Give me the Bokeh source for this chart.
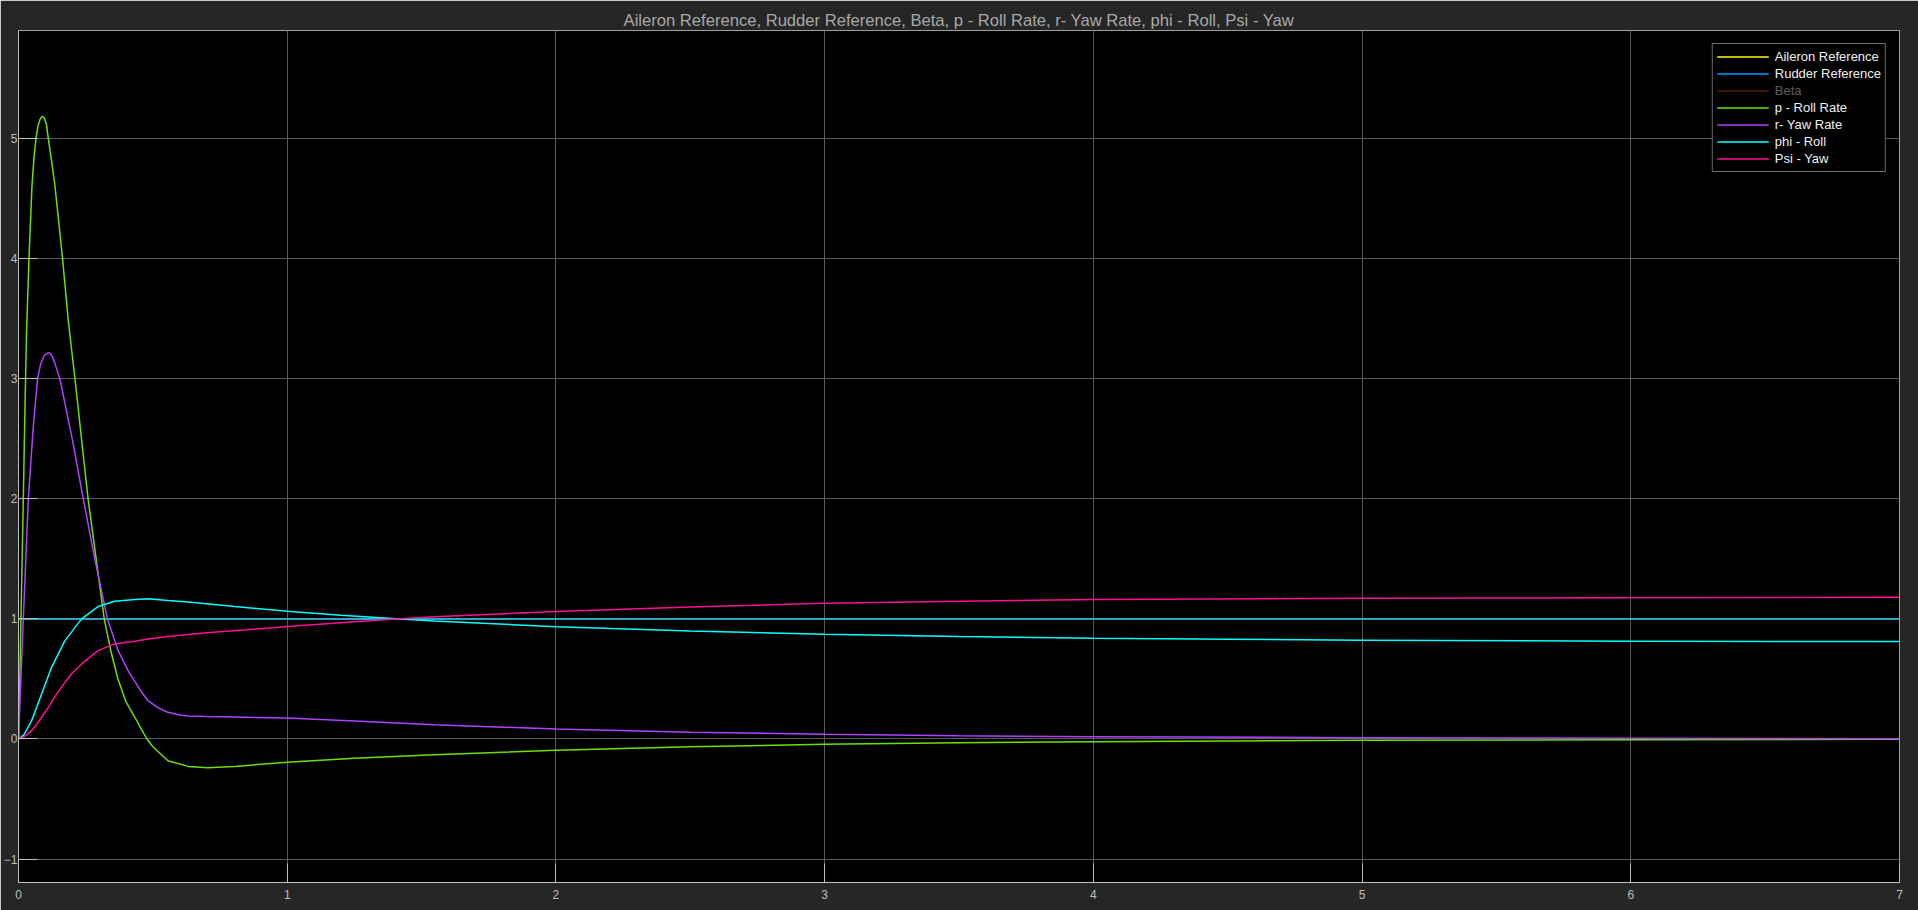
from bokeh.plotting import figure
from bokeh.models import FixedTicker, Legend, LegendItem, Range1d
from bokeh.embed import file_html
from bokeh.resources import INLINE

title_text = "Aileron Reference, Rudder Reference, Beta, p - Roll Rate, r- Yaw Rate, phi - Roll, Psi - Yaw"
x_ticks = [0, 1, 2, 3, 4, 5, 6, 7]
y_ticks = [-1, 0, 1, 2, 3, 4, 5]

ref_t = [0, 7]
aileron_ref = [1, 1]
rudder_ref = [1, 1]

# Beta is hidden in the scope (greyed legend entry): no visible values
beta_t = [0]
beta_y = [float("nan")]

p_t = [0, 0.005, 0.009, 0.018, 0.024, 0.030, 0.039, 0.050, 0.058, 0.065, 0.072, 0.080, 0.0885, 0.096,
       0.104, 0.111, 0.122, 0.135, 0.164, 0.185, 0.210, 0.259, 0.319, 0.345, 0.370, 0.400, 0.433,
       0.455, 0.478, 0.50, 0.556, 0.631, 0.705, 0.804, 1.0, 1.25, 1.547, 2.0, 2.5, 3.0, 3.5, 4.0,
       5.0, 6.0, 7.0]
p_y = [0, 0.5, 1.0, 2.0, 2.75, 3.39, 4.0, 4.6, 4.85, 5.0, 5.1, 5.16, 5.186, 5.17,
       5.12, 5.0, 4.83, 4.62, 4.0, 3.49, 3.0, 2.0, 1.0, 0.72, 0.5, 0.31, 0.181,
       0.09, 0.0, -0.065, -0.181, -0.228, -0.239, -0.228, -0.194, -0.16, -0.131, -0.094, -0.065,
       -0.044, -0.031, -0.022, -0.011, -0.006, -0.003]

r_t = [0, 0.009, 0.018, 0.0365, 0.055, 0.071, 0.082, 0.095, 0.105, 0.1145, 0.125, 0.135, 0.154,
       0.20, 0.241, 0.284, 0.331, 0.37, 0.41, 0.433, 0.455, 0.482, 0.52, 0.556, 0.60, 0.631, 0.70,
       0.804, 1.0, 1.25, 1.547, 2.0, 2.5, 3.0, 3.5, 4.0, 5.0, 6.0, 7.0]
r_y = [0, 0.5, 1.0, 2.0, 2.6, 3.0, 3.12, 3.19, 3.21, 3.217, 3.19, 3.13, 3.0,
       2.5, 2.0, 1.5, 1.0, 0.74, 0.56, 0.48, 0.40, 0.319, 0.26, 0.222, 0.20, 0.192, 0.187,
       0.183, 0.175, 0.15, 0.119, 0.083, 0.057, 0.039, 0.027, 0.019, 0.011, 0.006, 0.003]

phi_t = [0, 0.02, 0.049, 0.086, 0.123, 0.173, 0.235, 0.296, 0.358, 0.433, 0.482, 0.556, 0.631,
         0.804, 1.0, 1.2, 1.359, 1.547, 2.0, 2.5, 3.0, 3.5, 4.0, 4.5, 5.0, 6.0, 7.0]
phi_y = [0, 0.035, 0.153, 0.375, 0.597, 0.819, 1.0, 1.103, 1.147, 1.161, 1.167, 1.153, 1.14,
         1.103, 1.064, 1.03, 1.008, 0.983, 0.934, 0.90, 0.873, 0.853, 0.839, 0.83, 0.823, 0.814, 0.812]

psi_t = [0, 0.02, 0.049, 0.08, 0.111, 0.14, 0.173, 0.2, 0.235, 0.296, 0.358, 0.433, 0.482, 0.556,
         0.7, 0.85, 1.0, 1.359, 1.547, 2.0, 2.5, 3.0, 3.5, 4.0, 5.0, 6.0, 7.0]
psi_y = [0, 0.018, 0.069, 0.16, 0.264, 0.37, 0.472, 0.55, 0.625, 0.736, 0.792, 0.814, 0.833, 0.853,
         0.885, 0.91, 0.937, 0.994, 1.019, 1.061, 1.10, 1.13, 1.148, 1.161, 1.172, 1.177, 1.18]

FONT = "Liberation Sans"

p = figure(width=1918, height=910, x_range=Range1d(0, 7), y_range=Range1d(-1.195, 5.90),
           output_backend="svg", toolbar_location=None,
           background_fill_color="black", border_fill_color="#262626",
           min_border_left=0, min_border_right=19, min_border_top=30, min_border_bottom=28)

p.title.text = title_text
p.title.align = "center"
p.title.text_color = "#a8a8a8"
p.title.text_font = FONT
p.title.text_font_size = "16.6px"
p.title.text_font_style = "normal"
p.title.offset = 0
p.title.standoff = 2

p.outline_line_color = "#a0a0a0"

p.xaxis.ticker = FixedTicker(ticks=x_ticks)
p.yaxis.ticker = FixedTicker(ticks=y_ticks)
for ax in p.axis:
    ax.major_tick_in = 19
    ax.major_tick_out = 0
    ax.minor_tick_in = 0
    ax.minor_tick_out = 0
    ax.axis_line_color = "#bfbfbf"
    ax.major_tick_line_color = "#bfbfbf"
    ax.major_label_text_color = "#bdbdbd"
    ax.major_label_text_font = FONT
    ax.major_label_text_font_size = "12px"
p.yaxis.major_label_standoff = 1
p.xaxis.major_label_standoff = 7

p.xgrid.grid_line_color = "#5a5a5a"
p.ygrid.grid_line_color = "#5a5a5a"

lw = 1.5
r_ail = p.line(ref_t, aileron_ref, line_color="#ffff00", line_width=lw)
r_rud = p.line(ref_t, rudder_ref, line_color="#0096ff", line_width=lw)
r_beta = p.line(beta_t, beta_y, line_color="#d95319", line_width=lw)
r_beta.visible = False
r_p = p.line(p_t, p_y, line_color="#6ee000", line_width=lw)
r_r = p.line(r_t, r_y, line_color="#b040ff", line_width=lw)
r_phi = p.line(phi_t, phi_y, line_color="#00ffff", line_width=lw)
r_psi = p.line(psi_t, psi_y, line_color="#ff0f96", line_width=lw)

legend = Legend(items=[
    LegendItem(label="Aileron Reference", renderers=[r_ail]),
    LegendItem(label="Rudder Reference", renderers=[r_rud]),
    LegendItem(label="Beta", renderers=[r_beta]),
    LegendItem(label="p - Roll Rate", renderers=[r_p]),
    LegendItem(label="r- Yaw Rate", renderers=[r_r]),
    LegendItem(label="phi - Roll", renderers=[r_phi]),
    LegendItem(label="Psi - Yaw", renderers=[r_psi]),
], location="top_right", margin=13)
legend.background_fill_color = "black"
legend.background_fill_alpha = 1
legend.border_line_color = "#d9d9d9"
legend.border_line_width = 1
legend.label_text_color = "#f0f0f0"
legend.label_text_font = FONT
legend.label_text_font_size = "13px"
legend.glyph_width = 52
legend.glyph_height = 17
legend.label_height = 17
legend.spacing = 0
legend.padding = 4
legend.label_standoff = 6
legend.click_policy = "hide"
legend.inactive_fill_color = "black"
legend.inactive_fill_alpha = 0.62
p.add_layout(legend)

open("out.html", "w").write(file_html(p, INLINE))
